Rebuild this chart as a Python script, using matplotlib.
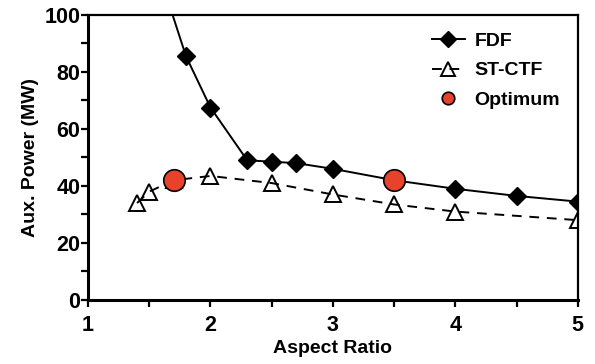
import matplotlib
matplotlib.use("Agg")
import matplotlib.pyplot as plt
from matplotlib.ticker import MultipleLocator

plt.rcParams['font.family'] = ['Liberation Sans', 'DejaVu Sans']
plt.rcParams['font.weight'] = 'bold'

# FDF auxiliary power vs aspect ratio
fdf_ar = [1.6, 1.8, 2.0, 2.3, 2.5, 2.7, 3.0, 3.5, 4.0, 4.5, 5.0]
fdf_pw = [112, 85.5, 67.5, 49, 48.5, 48, 46, 42, 39, 36.5, 34.5]

# ST-CTF auxiliary power vs aspect ratio
st_ar = [1.4, 1.5, 1.7, 2.0, 2.5, 3.0, 3.5, 4.0, 5.0]
st_pw = [34, 38, 42, 43.5, 41, 37, 33.5, 31, 28]

# Optimum design points
opt_ar = [1.7, 3.5]
opt_pw = [42, 42]

fig = plt.figure(figsize=(5.95, 3.64), dpi=100)
ax = fig.add_axes([0.148, 0.176, 0.823, 0.783])

ax.plot(fdf_ar, fdf_pw, color='black', lw=1.4, marker='D', ms=9.5,
        mfc='black', mec='black', label='FDF', zorder=3)
ax.plot(st_ar, st_pw, color='black', lw=1.4,
        ls=(0, (5, 4)), marker='^', ms=12, mfc='none', mec='black', mew=1.4,
        label='ST-CTF', zorder=2)
ax.plot(opt_ar, opt_pw, ls='none', marker='o', ms=15.5, mfc='#e8412c',
        mec='black', mew=1.2, label='Optimum', zorder=4)

ax.set_xlim(1, 5)
ax.set_ylim(0, 100)
ax.xaxis.set_major_locator(MultipleLocator(1))
ax.xaxis.set_minor_locator(MultipleLocator(0.5))
ax.yaxis.set_major_locator(MultipleLocator(20))
ax.yaxis.set_minor_locator(MultipleLocator(10))
ax.tick_params(which='both', direction='out', width=1.6, length=5,
               labelsize=15.5)
ax.tick_params(axis='x', which='major', pad=6)
ax.tick_params(axis='y', which='major', pad=0.5)
for lab in ax.get_xticklabels() + ax.get_yticklabels():
    lab.set_fontweight('bold')

for side in ['left', 'bottom']:
    ax.spines[side].set_linewidth(2.2)
for side in ['top', 'right']:
    ax.spines[side].set_linewidth(1.6)

ax.set_xlabel('Aspect Ratio', fontsize=14, fontweight='bold', labelpad=3)
ax.set_ylabel('Aux. Power (MW)', fontsize=14, fontweight='bold', labelpad=4)

leg = ax.legend(loc='upper right', frameon=False, fontsize=14,
                handlelength=1.7, handletextpad=0.5, labelspacing=0.6,
                borderaxespad=0.3, borderpad=0.6)
for t in leg.get_texts():
    t.set_fontweight('bold')
handles = leg.legend_handles
handles[0].set_markersize(8.5)
handles[1].set_markersize(10.5)
handles[2].set_markersize(9)

fig.savefig('out.png', dpi=100)
